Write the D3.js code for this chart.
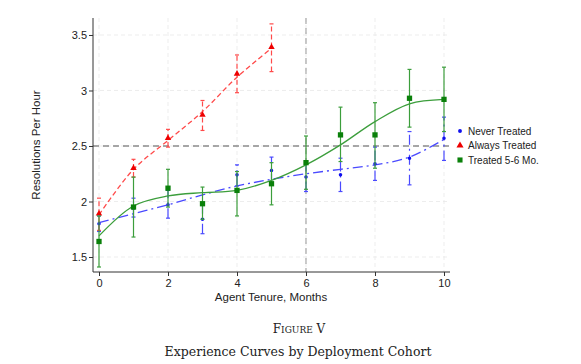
<!DOCTYPE html>
<html>
<head>
<meta charset="utf-8">
<script src="https://cdn.jsdelivr.net/npm/d3@7"></script>
<style>
  body { margin: 0; background: #fff; }
  text { font-family: "Liberation Sans", Arial, sans-serif; }
  .cap { font-family: "DejaVu Serif", "Liberation Serif", serif; fill: #222; }
</style>
</head>
<body>
<div id="content"></div>
<script>
// months of tenure
var months = [0, 1, 2, 3, 4, 5, 6, 7, 8, 9, 10];

// Never Treated: mean, lower, upper, fitted curve
var neverMean = [1.80, 1.94, 1.97, 1.84, 2.24, 2.28, 2.22, 2.24, 2.34, 2.39, 2.57];
var neverLo   = [1.73, 1.86, 1.85, 1.71, 2.14, 2.16, 2.09, 2.09, 2.19, 2.15, 2.37];
var neverHi   = [1.87, 2.03, 2.10, 1.97, 2.33, 2.40, 2.34, 2.39, 2.49, 2.63, 2.76];
var neverFit  = [1.81, 1.89, 1.97, 2.06, 2.14, 2.20, 2.25, 2.29, 2.33, 2.40, 2.56];

// Always Treated (months 0-5 only)
var alwaysMonths = [0, 1, 2, 3, 4, 5];
var alwaysMean = [1.89, 2.30, 2.57, 2.78, 3.15, 3.39];
var alwaysLo   = [1.74, 2.22, 2.49, 2.64, 2.98, 3.17];
var alwaysHi   = [2.03, 2.38, 2.65, 2.91, 3.32, 3.60];
var alwaysFit  = [1.88, 2.29, 2.55, 2.81, 3.12, 3.38];

// Treated 5-6 Mo.
var treatMean = [1.64, 1.95, 2.12, 1.98, 2.10, 2.16, 2.35, 2.60, 2.60, 2.93, 2.92];
var treatLo   = [1.41, 1.68, 1.95, 1.84, 1.87, 1.97, 2.11, 2.36, 2.30, 2.67, 2.63];
var treatHi   = [1.87, 2.22, 2.29, 2.13, 2.27, 2.35, 2.59, 2.85, 2.89, 3.19, 3.21];
var treatFit  = [1.69, 1.96, 2.05, 2.08, 2.10, 2.19, 2.33, 2.51, 2.72, 2.88, 2.92];

var yTicks = [1.5, 2, 2.5, 3, 3.5];
var xTicks = [0, 2, 4, 6, 8, 10];
var refY = 2.5, refX = 6;

var legendNames = ["Never Treated", "Always Treated", "Treated 5-6 Mo."];

var svg = d3.select('#content').append('svg')
    .attr('width', 581).attr('height', 364);

var x = d3.scaleLinear().domain([-0.174, 10.174]).range([93, 450]);
var y = d3.scaleLinear().domain([1.365, 3.653]).range([272, 18]);

// grid
var g = svg.append('g');
g.selectAll('.hg').data(yTicks).enter().append('line')
    .attr('x1', 93).attr('x2', 450)
    .attr('y1', function(d){ return y(d); }).attr('y2', function(d){ return y(d); })
    .attr('stroke', '#e8e8e8').attr('stroke-width', 0.8).attr('stroke-dasharray', '4,3');
g.selectAll('.vg').data(xTicks).enter().append('line')
    .attr('y1', 18).attr('y2', 272)
    .attr('x1', function(d){ return x(d); }).attr('x2', function(d){ return x(d); })
    .attr('stroke', '#e8e8e8').attr('stroke-width', 0.8).attr('stroke-dasharray', '4,3');

// reference lines
g.append('line').attr('x1', x(refX)).attr('x2', x(refX)).attr('y1', 18).attr('y2', 272)
    .attr('stroke', '#999').attr('stroke-width', 1).attr('stroke-dasharray', '6,4');
g.append('line').attr('x1', 93).attr('x2', 450).attr('y1', y(refY)).attr('y2', y(refY))
    .attr('stroke', '#555').attr('stroke-width', 1.2).attr('stroke-dasharray', '6,4');

// axes
var yAxis = d3.axisLeft(y).tickValues(yTicks).tickSize(4).tickFormat(d3.format('~g'));
var xAxis = d3.axisBottom(x).tickValues(xTicks).tickSize(4);
var ya = svg.append('g').attr('transform', 'translate(93,0)').call(yAxis);
var xa = svg.append('g').attr('transform', 'translate(0,272)').call(xAxis);
[ya, xa].forEach(function(a){
    a.select('.domain').remove();
    a.selectAll('.tick line').attr('stroke', '#333');
    a.selectAll('.tick text').attr('fill', '#222').style('font-size', '11px');
});
svg.append('line').attr('x1', 93).attr('x2', 93).attr('y1', 18).attr('y2', 272).attr('stroke', '#333');
svg.append('line').attr('x1', 93).attr('x2', 450).attr('y1', 272).attr('y2', 272).attr('stroke', '#333');
ya.selectAll('.tick text').attr('x', -6);
xa.selectAll('.tick text').attr('y', 7);

svg.append('text').attr('x', 271).attr('y', 301).attr('text-anchor', 'middle')
    .style('font-size', '11.5px').attr('fill', '#222').text('Agent Tenure, Months');
svg.append('text').attr('transform', 'translate(40,145) rotate(-90)').attr('text-anchor', 'middle')
    .style('font-size', '11.5px').attr('fill', '#222').text('Resolutions Per Hour');

function series(xs, mean, lo, hi, fit, color, lineColor, dash, shape, size) {
    var s = svg.append('g');
    var line = d3.line().x(function(d, i){ return x(xs[i]); }).y(function(d){ return y(d); })
        .curve(d3.curveCatmullRom.alpha(0.5));
    s.append('path').datum(fit).attr('d', line).attr('fill', 'none')
        .attr('stroke', lineColor).attr('stroke-width', 1.3).attr('stroke-dasharray', dash);
    var eb = s.selectAll('.eb').data(xs).enter().append('g');
    eb.append('line').attr('x1', function(d){ return x(d); }).attr('x2', function(d){ return x(d); })
        .attr('y1', function(d, i){ return y(lo[i]); }).attr('y2', function(d, i){ return y(hi[i]); })
        .attr('stroke', lineColor).attr('stroke-width', 1.2).attr('stroke-dasharray', dash);
    [lo, hi].forEach(function(arr){
        eb.append('line').attr('x1', function(d){ return x(d) - 2; }).attr('x2', function(d){ return x(d) + 2; })
            .attr('y1', function(d, i){ return y(arr[i]); }).attr('y2', function(d, i){ return y(arr[i]); })
            .attr('stroke', lineColor).attr('stroke-width', 1.2);
    });
    s.selectAll('.pt').data(mean).enter().append('path')
        .attr('transform', function(d, i){ return 'translate(' + x(xs[i]) + ',' + y(d) + ')'; })
        .attr('d', d3.symbol().type(shape).size(size))
        .attr('fill', color);
}

series(months, neverMean, neverLo, neverHi, neverFit, '#1010ee', '#4a4aff', '10,4,2,4', d3.symbolCircle, 10);
series(alwaysMonths, alwaysMean, alwaysLo, alwaysHi, alwaysFit, '#ee0000', '#ff4a4a', '5,3', d3.symbolTriangle, 18);
series(months, treatMean, treatLo, treatHi, treatFit, '#0a800a', '#3c9e3c', null, d3.symbolSquare, 28);

// legend
var legColors = ['#1010ee', '#ee0000', '#0a800a'];
var legShapes = [d3.symbolCircle, d3.symbolTriangle, d3.symbolSquare];
var legSizes = [12, 22, 26];
var leg = svg.append('g').selectAll('g').data(legendNames).enter().append('g')
    .attr('transform', function(d, i){ return 'translate(460,' + (131 + i * 14.5) + ')'; });
leg.append('path').attr('d', function(d, i){ return d3.symbol().type(legShapes[i]).size(legSizes[i])(); })
    .attr('fill', function(d, i){ return legColors[i]; });
leg.append('text').attr('x', 8).attr('y', 3.5).style('font-size', '10px').attr('fill', '#222')
    .text(function(d){ return d; });

// caption
var f = svg.append('text').attr('class', 'cap').attr('x', 299).attr('y', 333).attr('text-anchor', 'middle')
    .style('font-size', '12px');
f.append('tspan').text('F');
f.append('tspan').style('font-size', '9px').text('IGURE');
f.append('tspan').text(' V');
svg.append('text').attr('class', 'cap').attr('x', 298).attr('y', 356).attr('text-anchor', 'middle')
    .style('font-size', '12.5px').text('Experience Curves by Deployment Cohort');
</script>
</body>
</html>
